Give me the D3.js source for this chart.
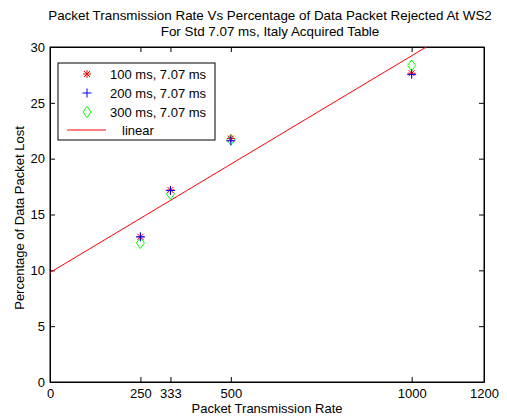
<!DOCTYPE html>
<html>
<head>
<meta charset="utf-8">
<script src="https://cdn.jsdelivr.net/npm/d3@7"></script>
<style>
  body { margin: 0; background: #fff; }
  text { font-family: "Liberation Sans", Arial, sans-serif; }
</style>
</head>
<body>
<div id="chart"></div>
<script>

// data
const rates = [250, 333, 500, 1000];
const ms100 = [13.0, 17.2, 21.8, 27.65];
const ms200 = [13.0, 17.15, 21.6, 27.55];
const ms300 = [12.45, 16.85, 21.7, 28.35];
const fitX = [0, 1200];
const fitY = [9.8, 33.1];
const xTicks = [0, 250, 333, 500, 1000, 1200];
const yTicks = [0, 5, 10, 15, 20, 25, 30];
const legendLabels = ["100 ms, 7.07 ms", "200 ms, 7.07 ms", "300 ms, 7.07 ms", "linear"];

const W = 507, H = 419;
const margin = { top: 47, right: 23, bottom: 37, left: 50 };
const width = W - margin.left - margin.right;
const height = H - margin.top - margin.bottom;

const svg = d3.select("#chart").append("svg")
	.attr("width", W)
	.attr("height", H);

const g = svg.append("g")
	.attr("transform", `translate(${margin.left},${margin.top})`);

let xScale = d3.scaleLinear().domain([0, 1200]).range([0, width]);
let yScale = d3.scaleLinear().domain([0, 30]).range([height, 0]);

g.append("clipPath").attr("id", "clip")
	.append("rect").attr("width", width).attr("height", height);

// axes, ticks pointing inward like matlab
const xAxis = d3.axisBottom(xScale).tickValues(xTicks).tickFormat(d3.format("d"))
	.tickSizeInner(-5).tickSizeOuter(0).tickPadding(7);
const yAxis = d3.axisLeft(yScale).tickValues(yTicks).tickFormat(d3.format("d"))
	.tickSizeInner(-5).tickSizeOuter(0).tickPadding(5);

g.append("g").attr("class", "axis").attr("transform", `translate(0,${height})`).call(xAxis);
g.append("g").attr("class", "axis").call(yAxis);
g.append("g").attr("class", "axis")
	.call(d3.axisTop(xScale).tickValues(xTicks).tickSizeInner(-5).tickSizeOuter(0).tickFormat(""));
g.append("g").attr("class", "axis").attr("transform", `translate(${width},0)`)
	.call(d3.axisRight(yScale).tickValues(yTicks).tickSizeInner(-5).tickSizeOuter(0).tickFormat(""));

g.selectAll(".axis text").style("font-size", "13px").attr("fill", "#000");
g.selectAll(".axis line").attr("stroke", "#000");
g.selectAll(".axis path").attr("stroke", "#000");

g.append("rect")
	.attr("width", width).attr("height", height)
	.attr("fill", "none").attr("stroke", "#000").attr("stroke-width", 1);

// fit line
const line = d3.line().x(d => xScale(d[0])).y(d => yScale(d[1]));
g.append("path")
	.datum(fitX.map((x, i) => [x, fitY[i]]))
	.attr("clip-path", "url(#clip)")
	.attr("d", line)
	.attr("fill", "none")
	.attr("stroke", "#ff0000")
	.attr("stroke-width", 1);

// marker shapes
function star(sel) {
	sel.append("path").attr("d", "M-4,0H4M0,-4V4M-3,-3L3,3M-3,3L3,-3")
		.attr("stroke", "#ff0000").attr("fill", "none");
}
function plus(sel) {
	sel.append("path").attr("d", "M-4.5,0H4.5M0,-4.5V4.5")
		.attr("stroke", "#0000ff").attr("fill", "none");
}
function diamond(sel) {
	sel.append("path").attr("d", "M0,-5.5L4,0L0,5.5L-4,0Z")
		.attr("stroke", "#00ff00").attr("fill", "none");
}

function drawSeries(vals, shape) {
	g.selectAll(null)
		.data(rates.map((r, i) => [r, vals[i]]))
		.join("g")
		.attr("transform", d => `translate(${xScale(d[0])},${yScale(d[1])})`)
		.call(shape);
}
drawSeries(ms300, diamond);
drawSeries(ms100, star);
drawSeries(ms200, plus);

// legend
const leg = svg.append("g").attr("transform", "translate(58,63)");
leg.append("rect").attr("width", 157).attr("height", 77)
	.attr("fill", "#fff").attr("stroke", "#000");
const rowY = [11, 30, 49, 67];
const shapes = [star, plus, diamond];
shapes.forEach((s, i) => {
	leg.append("g").attr("transform", `translate(29,${rowY[i]})`).call(s);
});
leg.append("line").attr("x1", 9).attr("x2", 48).attr("y1", rowY[3]).attr("y2", rowY[3])
	.attr("stroke", "#ff0000");
legendLabels.forEach((t, i) => {
	leg.append("text")
		.attr("x", i < 3 ? 52 : 64)
		.attr("y", rowY[i] + 5)
		.style("font-size", "13px")
		.text(t);
});

// titles
svg.append("text").attr("x", 270).attr("y", 20).attr("text-anchor", "middle")
	.style("font-size", "13.4px").text("Packet Transmission Rate Vs Percentage of Data Packet Rejected At WS2");
svg.append("text").attr("x", 270).attr("y", 36).attr("text-anchor", "middle")
	.style("font-size", "13.4px").text("For Std 7.07 ms, Italy Acquired Table");
svg.append("text").attr("x", 267).attr("y", 413).attr("text-anchor", "middle")
	.style("font-size", "13px").text("Packet Transmission Rate");
svg.append("text").attr("transform", "translate(24,218) rotate(-90)").attr("text-anchor", "middle")
	.style("font-size", "13px").text("Percentage of Data Packet Lost");

</script>
</body>
</html>
